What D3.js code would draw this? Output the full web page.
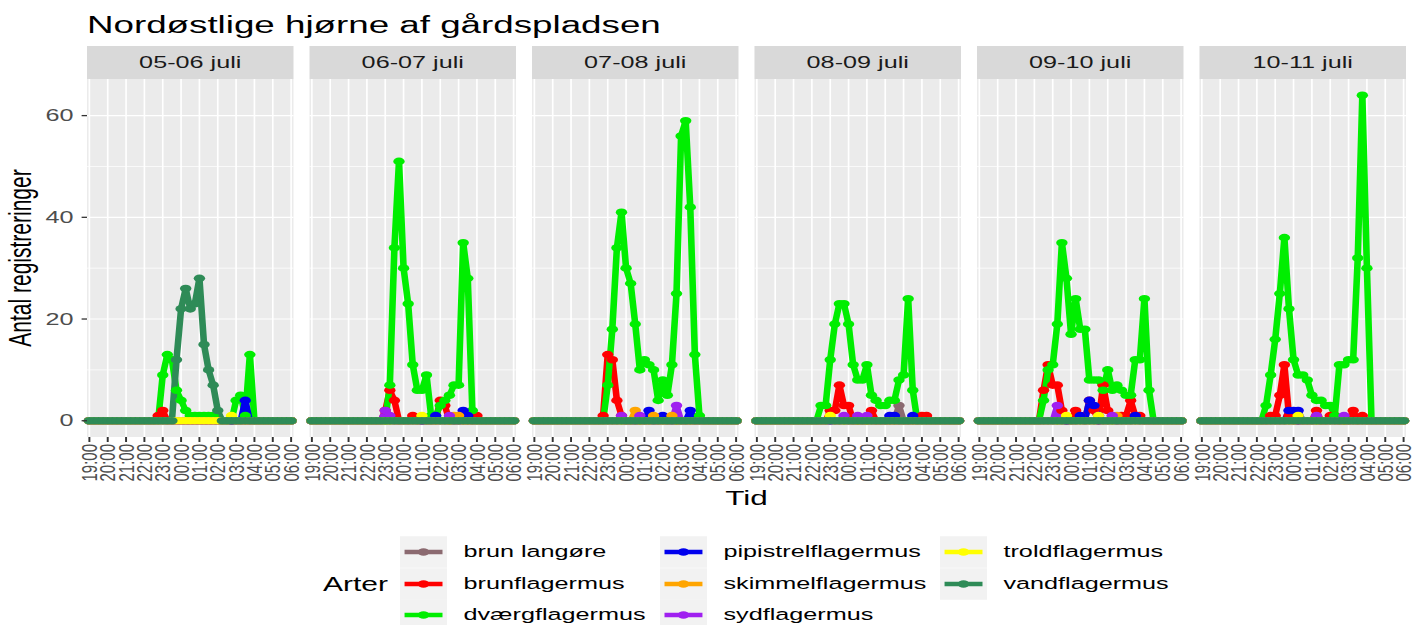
<!DOCTYPE html>
<html>
<head>
<meta charset="utf-8">
<script src="https://cdn.jsdelivr.net/npm/d3@7"></script>
<style>
  body { margin: 0; background: #ffffff; }
  text { font-family: "Liberation Sans", Arial, sans-serif; }
</style>
</head>
<body>
<div id="chart"></div>
<script>
// nights (facets), species and tick labels
const nights = ["05-06 juli", "06-07 juli", "07-08 juli", "08-09 juli", "09-10 juli", "10-11 juli"];
const timeLabels = ["19:00", "20:00", "21:00", "22:00", "23:00", "00:00", "01:00", "02:00", "03:00", "04:00", "05:00", "06:00"];
const species = ["brun langøre", "brunflagermus", "dværgflagermus", "pipistrelflagermus",
                 "skimmelflagermus", "sydflagermus", "troldflagermus", "vandflagermus"];
const speciesColors = ["#8b6a70", "#ff0000", "#00ee00", "#0000ee", "#ffa500", "#a020f0", "#ffff00", "#2e8b57"];
const yTicks = [0, 20, 40, 60];

// registrations per quarter hour, 19:00 .. 06:00 (45 values), one row per night
const brunLangore = [
  [0,0,0,0,0,0,0,0,0,0,0,0, 0,0,0,0,0,0,0,0,0,0,0,0, 0,0,0,0,0,0,0,0,0,0,0,0, 0,0,0,0,0,0,0,0,0],
  [0,0,0,0,0,0,0,0,0,0,0,0, 0,0,0,0,0,0,0,0,0,0,0,0, 0,0,0,0,0,0,0,0,0,0,0,0, 0,0,0,0,0,0,0,0,0],
  [0,0,0,0,0,0,0,0,0,0,0,0, 0,0,0,0,0,0,0,0,0,0,0,0, 0,0,0,0,0,0,0,0,0,0,0,0, 0,0,0,0,0,0,0,0,0],
  [0,0,0,0,0,0,0,0,0,0,0,0, 0,0,0,0,0,0,0,0,0,0,0,0, 0,0,0,0,0,0,0,3,0,0,0,0, 0,0,0,0,0,0,0,0,0],
  [0,0,0,0,0,0,0,0,0,0,0,0, 0,0,0,0,0,0,0,0,0,0,0,0, 0,0,0,0,0,0,0,0,0,0,0,0, 0,0,0,0,0,0,0,0,0],
  [0,0,0,0,0,0,0,0,0,0,0,0, 0,0,0,0,0,0,0,0,0,0,0,0, 0,0,0,0,0,0,0,0,0,0,0,0, 0,0,0,0,0,0,0,0,0]
];
const brunflagermus = [
  [0,0,0,0,0,0,0,0,0,0,0,0, 0,0,0,1,2,0,0,0,0,0,0,0, 0,0,0,0,0,0,0,0,0,0,0,0, 0,0,0,0,0,0,0,0,0],
  [0,0,0,0,0,0,0,0,0,0,0,0, 0,0,0,0,2,6,4,0,0,0,1,0, 0,0,0,0,4,3,0,0,0,0,0,0, 1,0,0,0,0,0,0,0,0],
  [0,0,0,0,0,0,0,0,0,0,0,0, 0,0,0,1,13,12,4,1,0,0,0,0, 0,0,0,0,0,0,0,0,0,0,0,0, 0,0,0,0,0,0,0,0,0],
  [0,0,0,0,0,0,0,0,0,0,0,0, 0,0,0,0,2,2,7,3,3,0,0,0, 0,2,0,0,0,0,0,0,0,0,0,0, 1,1,0,0,0,0,0,0,0],
  [0,0,0,0,0,0,0,0,0,0,0,0, 0,0,6,11,7,7,2,0,0,2,1,0, 4,2,0,7,2,1,0,1,1,4,1,1, 0,0,0,0,0,0,0,0,0],
  [0,0,0,0,0,0,0,0,0,0,0,0, 0,0,0,1,1,5,11,1,0,0,0,0, 0,2,0,0,1,1,0,0,0,2,0,1, 0,0,0,0,0,0,0,0,0]
];
const dvaergflagermus = [
  [0,0,0,0,0,0,0,0,0,0,0,0, 0,0,0,0,9,13,12,6,4,2,1,1, 1,1,1,1,0,0,0,0,4,5,1,13, 0,0,0,0,0,0,0,0,0],
  [0,0,0,0,0,0,0,0,0,0,0,0, 0,0,0,0,0,7,34,51,30,23,11,6, 6,9,1,1,3,4,5,7,7,35,28,2, 0,0,0,0,0,0,0,0,0],
  [0,0,0,0,0,0,0,0,0,0,0,0, 0,0,0,0,7,18,34,41,30,27,19,10, 12,11,10,4,8,5,11,25,56,59,42,13, 1,0,0,0,0,0,0,0,0],
  [0,0,0,0,0,0,0,0,0,0,0,0, 0,0,3,3,12,19,23,23,19,11,8,8, 11,5,4,3,3,4,4,8,9,24,6,0, 0,0,0,0,0,0,0,0,0],
  [0,0,0,0,0,0,0,0,0,0,0,0, 0,0,4,10,11,19,35,28,17,24,18,18, 8,8,8,6,10,6,7,6,5,5,12,12, 24,6,0,0,0,0,0,0,0],
  [0,0,0,0,0,0,0,0,0,0,0,0, 0,0,3,9,16,25,36,22,12,9,9,8, 5,4,4,3,3,1,11,11,12,12,32,64, 30,0,0,0,0,0,0,0,0]
];
const pipistrelflagermus = [
  [0,0,0,0,0,0,0,0,0,0,0,0, 0,0,0,0,0,0,0,0,0,0,0,0, 0,0,0,0,0,0,0,0,0,0,4,0, 0,0,0,0,0,0,0,0,0],
  [0,0,0,0,0,0,0,0,0,0,0,0, 0,0,0,0,0,0,0,0,0,0,0,0, 0,0,0,1,0,0,0,0,0,2,1,0, 0,0,0,0,0,0,0,0,0],
  [0,0,0,0,0,0,0,0,0,0,0,0, 0,0,0,0,0,0,0,0,0,0,0,0, 0,2,0,0,1,0,0,0,0,0,2,0, 0,0,0,0,0,0,0,0,0],
  [0,0,0,0,0,0,0,0,0,0,0,0, 0,0,0,0,0,0,0,0,0,0,0,0, 0,0,0,0,0,1,1,0,0,0,1,0, 0,0,0,0,0,0,0,0,0],
  [0,0,0,0,0,0,0,0,0,0,0,0, 0,0,0,0,0,0,0,0,0,0,1,0, 4,3,1,0,0,0,0,0,0,0,1,0, 0,0,0,0,0,0,0,0,0],
  [0,0,0,0,0,0,0,0,0,0,0,0, 0,0,0,0,0,0,0,2,2,2,0,0, 0,0,0,0,0,0,0,0,0,0,0,0, 0,0,0,0,0,0,0,0,0]
];
const skimmelflagermus = [
  [0,0,0,0,0,0,0,0,0,0,0,0, 0,0,0,0,0,0,0,0,0,0,0,0, 0,0,0,0,0,0,0,0,0,0,0,0, 0,0,0,0,0,0,0,0,0],
  [0,0,0,0,0,0,0,0,0,0,0,0, 0,0,0,0,0,0,0,0,0,0,0,0, 0,0,0,0,0,0,0,1,1,0,0,0, 0,0,0,0,0,0,0,0,0],
  [0,0,0,0,0,0,0,0,0,0,0,0, 0,0,0,0,0,0,0,0,0,0,2,0, 0,0,1,0,0,0,1,0,0,0,0,0, 0,0,0,0,0,0,0,0,0],
  [0,0,0,0,0,0,0,0,0,0,0,0, 0,0,0,0,0,0,0,0,0,0,0,0, 0,0,0,0,0,0,0,0,0,0,0,0, 0,0,0,0,0,0,0,0,0],
  [0,0,0,0,0,0,0,0,0,0,0,0, 0,0,0,0,0,0,0,0,0,0,0,0, 0,0,0,0,0,0,1,0,0,0,0,0, 0,0,0,0,0,0,0,0,0],
  [0,0,0,0,0,0,0,0,0,0,0,0, 0,0,0,0,0,0,0,0,0,0,0,0, 0,0,0,0,0,0,0,0,0,0,0,0, 0,0,0,0,0,0,0,0,0]
];
const sydflagermus = [
  [0,0,0,0,0,0,0,0,0,0,0,0, 0,0,0,0,0,0,0,0,0,0,0,0, 0,0,0,0,0,0,0,0,0,0,0,0, 0,0,0,0,0,0,0,0,0],
  [0,0,0,0,0,0,0,0,0,0,0,0, 0,0,0,0,2,1,0,0,0,0,0,0, 0,0,0,0,0,0,1,0,0,0,0,0, 0,0,0,0,0,0,0,0,0],
  [0,0,0,0,0,0,0,0,0,0,0,0, 0,0,0,0,0,0,0,1,0,0,0,1, 0,0,0,0,0,0,0,3,0,0,0,0, 0,0,0,0,0,0,0,0,0],
  [0,0,0,0,0,0,0,0,0,0,0,0, 0,0,0,0,0,0,0,1,0,0,1,0, 1,0,0,0,0,0,0,0,0,0,0,0, 0,0,0,0,0,0,0,0,0],
  [0,0,0,0,0,0,0,0,0,0,0,0, 0,0,0,0,0,3,0,0,0,0,0,0, 0,0,0,0,0,1,0,0,0,0,0,0, 0,0,0,0,0,0,0,0,0],
  [0,0,0,0,0,0,0,0,0,0,0,0, 0,0,0,0,0,0,0,0,0,0,0,0, 0,1,0,0,0,0,0,1,0,0,0,0, 0,0,0,0,0,0,0,0,0]
];
const troldflagermus = [
  [0,0,0,0,0,0,0,0,0,0,0,0, 0,0,0,0,0,0,0,0,0,0,0,0, 0,0,0,0,0,0,0,1,0,0,0,0, 0,0,0,0,0,0,0,0,0],
  [0,0,0,0,0,0,0,0,0,0,0,0, 0,0,0,0,0,0,0,0,0,0,0,0, 1,0,0,0,0,0,0,0,0,0,0,0, 0,0,0,0,0,0,0,0,0],
  [0,0,0,0,0,0,0,0,0,0,0,0, 0,0,0,0,0,0,0,0,0,0,0,0, 0,0,0,0,0,0,0,0,0,0,0,0, 0,0,0,0,0,0,0,0,0],
  [0,0,0,0,0,0,0,0,0,0,0,0, 0,0,0,0,1,0,0,0,0,0,0,0, 0,0,0,0,0,0,0,0,0,0,0,0, 0,0,0,0,0,0,0,0,0],
  [0,0,0,0,0,0,0,0,0,0,0,0, 0,0,0,0,0,0,0,1,0,0,0,0, 0,0,1,0,0,0,0,0,0,0,0,0, 0,0,0,0,0,0,0,0,0],
  [0,0,0,0,0,0,0,0,0,0,0,0, 0,0,0,0,0,0,0,0,0,1,0,0, 0,0,0,0,0,0,0,0,0,0,0,0, 0,0,0,0,0,0,0,0,0]
];
const vandflagermus = [
  [0,0,0,0,0,0,0,0,0,0,0,0, 0,0,0,0,0,0,0,12,22,26,22,23, 28,15,10,7,2,0,0,0,0,0,0,0, 0,0,0,0,0,0,0,0,0],
  [0,0,0,0,0,0,0,0,0,0,0,0, 0,0,0,0,0,0,0,0,0,0,0,0, 0,0,0,0,0,0,0,0,0,0,0,0, 0,0,0,0,0,0,0,0,0],
  [0,0,0,0,0,0,0,0,0,0,0,0, 0,0,0,0,0,0,0,0,0,0,0,0, 0,0,0,0,0,0,0,0,0,0,0,0, 0,0,0,0,0,0,0,0,0],
  [0,0,0,0,0,0,0,0,0,0,0,0, 0,0,0,0,0,0,0,0,0,0,0,0, 0,0,0,0,0,0,0,0,0,0,0,0, 0,0,0,0,0,0,0,0,0],
  [0,0,0,0,0,0,0,0,0,0,0,0, 0,0,0,0,0,0,0,0,0,0,0,0, 0,0,0,0,0,0,0,0,0,0,0,0, 0,0,0,0,0,0,0,0,0],
  [0,0,0,0,0,0,0,0,0,0,0,0, 0,0,0,0,0,0,0,0,0,0,0,0, 0,0,0,0,0,0,0,0,0,0,0,0, 0,0,0,0,0,0,0,0,0]
];
const counts = [brunLangore, brunflagermus, dvaergflagermus, pipistrelflagermus,
                skimmelflagermus, sydflagermus, troldflagermus, vandflagermus];

// the picture is a horizontally stretched ggplot: draw in narrow units, then stretch
const width = 1419, height = 625, stretch = 1.5;
const svg = d3.select('#chart').append('svg')
    .attr('width', width)
    .attr('height', height)
    .style('background', '#FFFFFF');
const root = svg.append('g').attr('transform', `scale(${stretch},1)`);

const panelLeft = 58, panelWidth = 137.67, panelStep = 148.33;
const panelTop = 79, panelBottom = 437, stripTop = 46;
const lineWidth = 4.4, pointRadius = 3.8;

const xScale = d3.scaleLinear().domain([-0.13, 11.13]).range([0, panelWidth]);
const yScale = d3.scaleLinear().domain([-3.2, 67.2]).range([panelBottom, panelTop]);
const hourOf = i => i * 0.25;

// title
root.append('text')
    .attr('x', panelLeft).attr('y', 33)
    .attr('font-size', 24.5).attr('fill', '#000')
    .text('Nordøstlige hjørne af gårdspladsen');

nights.forEach((night, k) => {
    const g = root.append('g')
        .attr('transform', `translate(${panelLeft + k * panelStep}, 0)`);

    g.append('rect')
        .attr('x', 0).attr('y', panelTop)
        .attr('width', panelWidth).attr('height', panelBottom - panelTop)
        .attr('fill', '#ebebeb');

    // minor then major grid
    g.selectAll('.ygrid-minor')
        .data([10, 30, 50]).enter()
        .append('line')
        .attr('x1', 0).attr('x2', panelWidth)
        .attr('y1', d => yScale(d)).attr('y2', d => yScale(d))
        .attr('stroke', '#ffffff').attr('stroke-width', 0.6);
    g.selectAll('.ygrid')
        .data(yTicks).enter()
        .append('line')
        .attr('x1', 0).attr('x2', panelWidth)
        .attr('y1', d => yScale(d)).attr('y2', d => yScale(d))
        .attr('stroke', '#ffffff').attr('stroke-width', 1.2);
    g.selectAll('.xgrid')
        .data(timeLabels).enter()
        .append('line')
        .attr('x1', (d, i) => xScale(i)).attr('x2', (d, i) => xScale(i))
        .attr('y1', panelTop).attr('y2', panelBottom)
        .attr('stroke', '#ffffff').attr('stroke-width', 1.1);

    // strip
    g.append('rect')
        .attr('x', 0).attr('y', stripTop)
        .attr('width', panelWidth).attr('height', panelTop - stripTop)
        .attr('fill', '#d9d9d9');
    g.append('text')
        .attr('x', panelWidth / 2).attr('y', (stripTop + panelTop) / 2)
        .attr('text-anchor', 'middle').attr('dominant-baseline', 'central')
        .attr('font-size', 16.8).attr('fill', '#1a1a1a')
        .text(night);

    // x axis
    g.selectAll('.xtick')
        .data(timeLabels).enter()
        .append('line')
        .attr('x1', (d, i) => xScale(i)).attr('x2', (d, i) => xScale(i))
        .attr('y1', panelBottom).attr('y2', panelBottom + 5)
        .attr('stroke', '#333333').attr('stroke-width', 1.3);
    g.selectAll('.xlabel')
        .data(timeLabels).enter()
        .append('text')
        .attr('transform', (d, i) => `translate(${xScale(i)}, ${panelBottom + 7}) rotate(-90)`)
        .attr('text-anchor', 'end').attr('dominant-baseline', 'central')
        .attr('font-size', 15).attr('fill', '#4d4d4d')
        .text(d => d);

    // lines first, then points (like geom_line + geom_point)
    const line = d3.line()
        .x((d, i) => xScale(hourOf(i)))
        .y(d => yScale(d));
    counts.forEach((rows, s) => {
        g.append('path')
            .datum(rows[k])
            .attr('d', line)
            .attr('fill', 'none')
            .attr('stroke', speciesColors[s])
            .attr('stroke-width', lineWidth)
            .attr('stroke-linejoin', 'round');
    });
    counts.forEach((rows, s) => {
        g.selectAll(`.pt${s}`)
            .data(rows[k]).enter()
            .append('circle')
            .attr('cx', (d, i) => xScale(hourOf(i)))
            .attr('cy', d => yScale(d))
            .attr('r', pointRadius)
            .attr('fill', speciesColors[s]);
    });
});

// y axis on the first panel
const yAxis = root.append('g');
yAxis.selectAll('.ytick')
    .data(yTicks).enter()
    .append('line')
    .attr('x1', panelLeft - 3.6).attr('x2', panelLeft)
    .attr('y1', d => yScale(d)).attr('y2', d => yScale(d))
    .attr('stroke', '#333333').attr('stroke-width', 1.3);
yAxis.selectAll('.ylabel')
    .data(yTicks).enter()
    .append('text')
    .attr('x', panelLeft - 9).attr('y', d => yScale(d))
    .attr('text-anchor', 'end').attr('dominant-baseline', 'central')
    .attr('font-size', 16.8).attr('fill', '#4d4d4d')
    .text(d => d);

// axis titles
const panelsRight = panelLeft + (nights.length - 1) * panelStep + panelWidth;
root.append('text')
    .attr('x', (panelLeft + panelsRight) / 2).attr('y', 505)
    .attr('text-anchor', 'middle')
    .attr('font-size', 21).attr('fill', '#000')
    .text('Tid');
root.append('text')
    .attr('transform', `translate(13.5, ${(panelTop + panelBottom) / 2}) rotate(-90)`)
    .attr('text-anchor', 'middle').attr('dominant-baseline', 'central')
    .attr('font-size', 21).attr('fill', '#000')
    .text('Antal registreringer');

// legend: 3 columns of 3 rows
const keyCols = [266.7, 440, 626.7];
const keyRows = [552, 584, 615];
const keyW = 31.3, keyH = 31.5;
const legend = root.append('g');
legend.append('text')
    .attr('x', keyCols[0] - 8).attr('y', keyRows[1])
    .attr('text-anchor', 'end').attr('dominant-baseline', 'central')
    .attr('font-size', 20).attr('fill', '#000')
    .text('Arter');
species.forEach((name, s) => {
    const cx = keyCols[Math.floor(s / 3)];
    const cy = keyRows[s % 3];
    const item = legend.append('g');
    item.append('rect')
        .attr('x', cx).attr('y', cy - keyH / 2)
        .attr('width', keyW).attr('height', keyH)
        .attr('fill', '#f2f2f2');
    item.append('line')
        .attr('x1', cx + 3).attr('x2', cx + keyW - 3)
        .attr('y1', cy).attr('y2', cy)
        .attr('stroke', speciesColors[s]).attr('stroke-width', lineWidth);
    item.append('circle')
        .attr('cx', cx + keyW / 2).attr('cy', cy)
        .attr('r', pointRadius)
        .attr('fill', speciesColors[s]);
    item.append('text')
        .attr('x', cx + keyW + 11).attr('y', cy)
        .attr('dominant-baseline', 'central')
        .attr('font-size', 16.8).attr('fill', '#000')
        .text(name);
});
</script>
</body>
</html>
